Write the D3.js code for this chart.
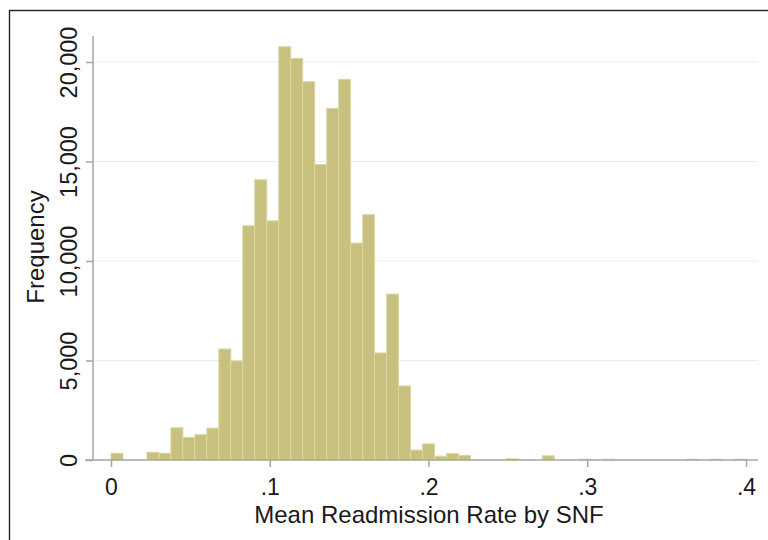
<!DOCTYPE html>
<html>
<head>
<meta charset="utf-8">
<script src="https://cdn.jsdelivr.net/npm/d3@7"></script>
<style>
  body { margin: 0; background: #fff; }
  svg { display: block; font-family: "Liberation Sans", Arial, sans-serif; }
</style>
</head>
<body>
<svg id="chart" width="768" height="540"></svg>
<script>
// histogram: 53 bins from 0 to .4
const binStart = 0;
const binEnd = 0.4;
const binCounts = [
  340, 0, 0, 390, 340, 1620, 1140, 1270, 1600, 5580,
  4980, 11770, 14080, 12020, 20770, 20180, 19010, 14850, 17670, 19130,
  10900, 12330, 5380, 8340, 3720, 500, 810, 190, 330, 230,
  0, 0, 0, 60, 0, 0, 210, 0, 0, 40,
  0, 40, 0, 0, 0, 0, 0, 0, 40, 0,
  40, 0, 40
];
const xTicks = [0, 0.1, 0.2, 0.3, 0.4];
const xTickLabels = ["0", ".1", ".2", ".3", ".4"];
const yTicks = [0, 5000, 10000, 15000, 20000];
const yGrid = [5000, 10000, 15000, 20000];

const binWidth = (binEnd - binStart) / binCounts.length;
const bins = binCounts.map((c, i) => ({
  x0: binStart + i * binWidth,
  x1: binStart + (i + 1) * binWidth,
  count: c,
}));

const svg = d3.select("#chart");

const x = d3.scaleLinear().domain([0, 0.4]).range([111, 746]);
const y = d3.scaleLinear().domain([0, 20000]).range([460, 62]);

// outer frame
svg.append("rect")
  .attr("x", 9.5).attr("y", 10.5)
  .attr("width", 900).attr("height", 700)
  .attr("fill", "none")
  .attr("stroke", "#222")
  .attr("stroke-width", 1.4);

// gridlines
svg.append("g")
  .selectAll("line")
  .data(yGrid)
  .join("line")
  .attr("x1", 93).attr("x2", 758)
  .attr("y1", (d) => y(d)).attr("y2", (d) => y(d))
  .attr("stroke", "#e6eff1")
  .attr("stroke-width", 1);

// bars
svg.append("g")
  .selectAll("rect")
  .data(bins.filter((d) => d.count > 0))
  .join("rect")
  .attr("x", (d) => x(d.x0))
  .attr("width", (d) => x(d.x1) - x(d.x0))
  .attr("y", (d) => y(d.count))
  .attr("height", (d) => y(0) - y(d.count))
  .attr("fill", "#c8c07e")
  .attr("stroke", "#dcd7a2")
  .attr("stroke-width", 1);

// y axis
const yAxis = svg.append("g")
  .attr("transform", "translate(93,0)")
  .call(d3.axisLeft(y).tickValues(yTicks).tickSize(7).tickFormat(d3.format(",")));
yAxis.select(".domain").remove();
yAxis.append("line")
  .attr("x1", 0).attr("x2", 0)
  .attr("y1", 36).attr("y2", 460)
  .attr("stroke", "#a6a6a6").attr("stroke-width", 1.5);
yAxis.selectAll(".tick line").attr("stroke", "#a6a6a6").attr("stroke-width", 1.5);
yAxis.selectAll(".tick text")
  .attr("x", null).attr("dy", null)
  .attr("transform", "translate(-16,0) rotate(-90)")
  .attr("text-anchor", "middle")
  .attr("fill", "#1a1a1a")
  .attr("font-size", "23.5px");

// x axis
const xAxis = svg.append("g")
  .attr("transform", "translate(0,460)")
  .call(d3.axisBottom(x).tickValues(xTicks).tickSize(7)
    .tickFormat((d, i) => xTickLabels[i]));
xAxis.select(".domain").remove();
xAxis.append("line")
  .attr("x1", 85).attr("x2", 758)
  .attr("y1", 0).attr("y2", 0)
  .attr("stroke", "#a6a6a6").attr("stroke-width", 1.5);
xAxis.selectAll(".tick line").attr("stroke", "#a6a6a6").attr("stroke-width", 1.5);
xAxis.selectAll(".tick text")
  .attr("y", 35).attr("dy", null)
  .attr("fill", "#1a1a1a")
  .attr("font-size", "23px");

// axis titles
svg.append("text")
  .attr("x", 429).attr("y", 523)
  .attr("text-anchor", "middle")
  .attr("font-size", "24px")
  .attr("fill", "#1a1a1a")
  .text("Mean Readmission Rate by SNF");

svg.append("text")
  .attr("transform", "translate(44,247) rotate(-90)")
  .attr("text-anchor", "middle")
  .attr("font-size", "24px")
  .attr("fill", "#1a1a1a")
  .text("Frequency");
</script>
</body>
</html>
